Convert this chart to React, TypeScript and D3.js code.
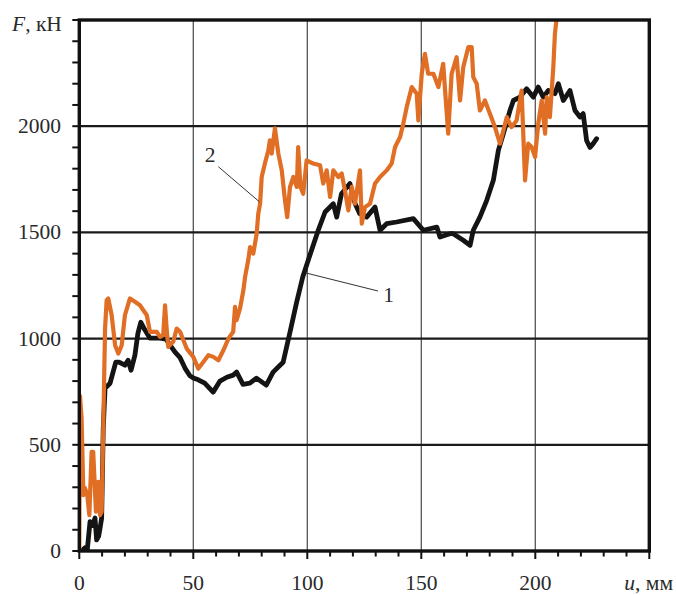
import * as React from "react";
import * as d3 from "d3";

// curve 1 (black): u, mm / F, kN
const u1 = [1, 2.5, 3.5, 4.7, 5.8, 6.9, 7.6, 8.5, 9.1, 9.8, 10.5, 11.3, 13.5, 16, 17.4, 20, 21.4, 22.7, 24.4, 25.7, 27, 28.8, 31, 35.4, 38, 39.8, 42, 44.2, 46.4, 48.5, 50, 52.2, 55, 58.7, 61.7, 64.7, 67.5, 69, 71.8, 74.8, 77.7, 82, 85, 89.4, 92.4, 95.3, 98, 100.4, 102.6, 104.8, 107.8, 111.4, 112.9, 115, 118.7, 121, 123, 126, 129.7, 131.9, 134.8, 139.2, 146.5, 150.9, 156.8, 158.2, 162.6, 164, 168.4, 171.4, 172.8, 175.7, 178.7, 181.6, 183.8, 186, 188.9, 190.4, 193.3, 196.2, 199.1, 201.3, 203.5, 205.7, 208.6, 210.1, 212.3, 215.2, 217.4, 219.6, 221, 222.5, 224, 225.4, 226.9];
const f1 = [0, 15, 5, 138, 120, 155, 52, 70, 108, 155, 578, 766, 790, 889, 889, 875, 898, 851, 922, 1025, 1077, 1040, 1002, 1002, 997, 969, 936, 910, 860, 825, 815, 806, 790, 748, 800, 818, 828, 842, 785, 790, 814, 781, 842, 889, 1030, 1170, 1290, 1369, 1440, 1510, 1596, 1635, 1572, 1682, 1730, 1635, 1588, 1572, 1619, 1510, 1541, 1549, 1565, 1510, 1525, 1478, 1494, 1494, 1463, 1439, 1510, 1572, 1651, 1745, 1886, 1965, 2074, 2121, 2137, 2176, 2137, 2184, 2137, 2168, 2153, 2200, 2121, 2168, 2074, 2043, 2059, 1933, 1900, 1918, 1941];

// curve 2 (orange)
const u2 = [0, 0.3, 1, 1.8, 2.5, 3.5, 4.4, 5.4, 6.1, 7.3, 8.3, 9.1, 9.8, 10.5, 11.3, 12, 12.7, 14.2, 15.7, 17.1, 18.6, 20, 22.2, 24.4, 26.6, 29.6, 31, 34, 35.4, 36.8, 37.6, 38.3, 39, 41.2, 42.7, 44.2, 47.1, 50, 52.2, 54.4, 56.6, 58.8, 61, 63.2, 65.4, 67.5, 68.3, 69, 70.5, 72, 72.7, 74.1, 74.9, 76.3, 77.8, 78.5, 79.3, 80, 81.4, 82.9, 83.6, 84.4, 85.8, 87.3, 88.8, 90.2, 91.2, 92.4, 93.9, 95.4, 96, 97, 98.2, 99.7, 102.6, 105.6, 107, 108.5, 110, 111.4, 113.6, 115.1, 116.5, 118, 119.5, 120.9, 123.1, 123.9, 125.3, 127.5, 129.7, 131.9, 134.8, 137, 138.5, 140.7, 142.1, 143.6, 145.8, 148, 148.7, 150.2, 151.6, 153, 155.3, 157.5, 159.6, 161.8, 163.3, 165.5, 167, 168.4, 170.6, 172.1, 172.8, 174.3, 175.7, 177.9, 180.1, 182.3, 184.5, 186, 187.5, 189.6, 191.8, 194, 195.5, 196.9, 198.4, 199.9, 201.3, 202.8, 204.3, 205, 206.4, 207.9, 208.6, 209.6];
const f2 = [0, 730, 626, 263, 296, 263, 169, 467, 467, 185, 326, 169, 185, 577, 1047, 1181, 1189, 1110, 969, 930, 969, 1110, 1189, 1173, 1157, 1110, 1032, 1032, 1008, 1016, 1157, 1047, 961, 985, 1047, 1032, 953, 914, 859, 890, 922, 914, 898, 945, 1000, 1032, 1149, 1087, 1142, 1230, 1290, 1369, 1431, 1400, 1494, 1588, 1635, 1761, 1824, 1886, 1933, 1871, 1990, 1871, 1792, 1651, 1572, 1714, 1761, 1714, 1902, 1714, 1682, 1839, 1824, 1816, 1730, 1792, 1667, 1792, 1761, 1777, 1698, 1604, 1714, 1635, 1792, 1541, 1619, 1635, 1730, 1761, 1792, 1824, 1902, 1949, 2012, 2090, 2184, 2153, 2027, 2247, 2341, 2247, 2247, 2184, 2294, 1965, 2247, 2325, 2121, 2278, 2372, 2372, 2231, 2200, 2074, 2121, 2059, 1996, 1918, 1980, 2043, 1996, 2027, 2168, 1745, 1918, 1902, 1855, 2012, 2121, 1965, 2137, 2043, 2278, 2435, 2530];

const xTicks = [0, 50, 100, 150, 200];
const yTicks = [0, 500, 1000, 1500, 2000];

export default function App() {
  const width = 676;
  const height = 595;
  const left = 79.3, right = 649.3, top = 20, bottom = 551;

  const x = d3.scaleLinear().domain([0, 250]).range([left, right]);
  const y = d3.scaleLinear().domain([0, 2500]).range([bottom, top]);

  const line = d3
    .line<[number, number]>()
    .x(d => x(d[0]))
    .y(d => y(d[1]));

  const pts1 = u1.map((u, i) => [u, f1[i]] as [number, number]);
  const pts2 = u2.map((u, i) => [u, f2[i]] as [number, number]);

  const txt = { fontFamily: "Liberation Serif, DejaVu Serif, serif", fontSize: 21.5, fill: "#2a2a2a" };
  const minorX = d3.range(0, 251, 10);
  const minorY = d3.range(0, 2501, 100);

  return (
    <svg width={width} height={height} style={{ position: "absolute", left: 0, top: 0 }}>
      <rect width={width} height={height} fill="#fff" />
      <defs>
        <clipPath id="plot">
          <rect x={left} y={top} width={right - left} height={bottom - top} />
        </clipPath>
      </defs>

      {/* grid */}
      {xTicks.slice(1).map(t => (
        <line key={"gx" + t} x1={x(t)} x2={x(t)} y1={top} y2={bottom} stroke="#555" strokeWidth={1.3} />
      ))}
      {yTicks.slice(1).map(t => (
        <line key={"gy" + t} x1={left} x2={right} y1={y(t)} y2={y(t)} stroke="#1a1a1a" strokeWidth={2.2} />
      ))}

      {/* ticks */}
      {minorX.map(t => (
        <line key={"tx" + t} x1={x(t)} x2={x(t)} y1={bottom} y2={bottom + (t % 50 === 0 ? 8 : 5.5)} stroke="#111" strokeWidth={2} />
      ))}
      {minorY.map(t => (
        <line key={"ty" + t} x1={left - 7} x2={left} y1={y(t)} y2={y(t)} stroke="#111" strokeWidth={2} />
      ))}

      {/* curves */}
      <g clipPath="url(#plot)" fill="none" strokeLinejoin="round" strokeLinecap="round">
        <path d={line(pts1) || ""} stroke="#141414" strokeWidth={4.8} />
        <path d={line(pts2) || ""} stroke="#E06E24" strokeWidth={4.2} />
      </g>

      {/* frame */}
      <rect x={left} y={top} width={right - left} height={bottom - top} fill="none" stroke="#111" strokeWidth={3.4} />

      {/* tick labels */}
      {yTicks.map(t => (
        <text key={"ly" + t} x={61} y={y(t) + 7} textAnchor="end" style={txt}>
          {t}
        </text>
      ))}
      {xTicks.map(t => (
        <text key={"lx" + t} x={x(t)} y={590} textAnchor="middle" style={txt}>
          {t}
        </text>
      ))}

      <text x={12} y={31} style={txt}>
        <tspan fontStyle="italic">F</tspan>, кН
      </text>
      <text x={673} y={590} textAnchor="end" style={txt}>
        <tspan fontStyle="italic">u</tspan>, мм
      </text>

      {/* annotations */}
      <line x1={218.3} y1={166.7} x2={259.3} y2={201.7} stroke="#333" strokeWidth={1} />
      <text x={210} y={162} textAnchor="middle" style={txt}>2</text>
      <line x1={306} y1={273} x2={378} y2={291} stroke="#333" strokeWidth={1} />
      <text x={388.5} y={302} textAnchor="middle" style={txt}>1</text>
    </svg>
  );
}
